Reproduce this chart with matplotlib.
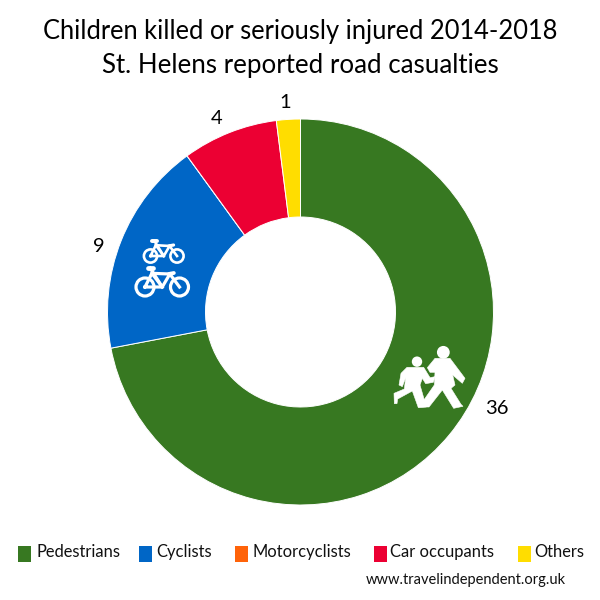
import matplotlib
matplotlib.use("Agg")
import matplotlib.pyplot as plt
from matplotlib.patches import Rectangle, Circle, Polygon

categories = ["Pedestrians", "Cyclists", "Motorcyclists", "Car occupants", "Others"]
values = [36, 9, 0, 4, 1]
colors = ["#377821", "#0066C6", "#FF6309", "#EC0033", "#FFDD00"]
title_lines = ["Children killed or seriously injured 2014-2018", "St. Helens reported road casualties"]
source = "www.travelindependent.org.uk"

plt.rcParams['font.family'] = ['Lato', 'DejaVu Sans']
S = 600
fig = plt.figure(figsize=(6, 6), dpi=100)

ov = fig.add_axes([0, 0, 1, 1], zorder=3)
ov.set_xlim(0, S); ov.set_ylim(S, 0); ov.axis("off"); ov.patch.set_alpha(0)

cx, cy, R = 300.5, 312, 193
ax = fig.add_axes([(cx-R)/S, 1-(cy+R)/S, 2*R/S, 2*R/S], zorder=1)
ax.pie(values, colors=colors, startangle=90, counterclock=False, radius=1,
       wedgeprops=dict(width=1-95/193, edgecolor="white", linewidth=0.7))
ax.set_xlim(-1, 1); ax.set_ylim(-1, 1); ax.set_aspect("equal")

ov.text(300.5, 31, title_lines[0], ha="center", va="center", fontsize=18.4, color="black")
ov.text(300, 65, title_lines[1], ha="center", va="center", fontsize=18.6, color="black")

label_pos = {0: (497, 408), 1: (99, 246), 3: (217, 118), 4: (285, 103)}
for i, p in label_pos.items():
    ov.text(p[0], p[1], str(values[i]), ha="center", va="center", fontsize=14.5, color="black")

sw_x = [18, 139, 235, 374, 518]
tx_x = [36, 156, 252, 390, 534]
for n, c, a, b in zip(categories, colors, sw_x, tx_x):
    ov.add_patch(Rectangle((a, 546), 13, 16, fc=c, ec="none"))
    ov.text(b, 552, n, ha="left", va="center", fontsize=11.9, color="#111111")
ov.text(366, 580, source, ha="left", va="center", fontsize=10.5, color="#111111")

W = "white"
def bike(x1, x2, y, r, lw, rise_seat, rise_bar):
    ov.add_patch(Circle((x1, y), r, fc="none", ec=W, lw=lw))
    ov.add_patch(Circle((x2, y), r, fc="none", ec=W, lw=lw))
    d = x2 - x1
    bx, by = x1 + d*0.5, y
    sx, sy = x1 + d*0.15, y - rise_seat
    tx, ty = x1 + d*0.2, y - rise_seat*0.72
    hx, hy = x1 + d*0.72, y - rise_bar
    ov.plot([x1, tx, bx, x1], [y, ty, by, y], color=W, lw=lw)
    ov.plot([sx, bx], [sy, by], color=W, lw=lw)
    ov.plot([tx, hx, bx], [ty, hy, by], color=W, lw=lw)
    ov.plot([hx, x2], [hy, y], color=W, lw=lw)
    ov.plot([sx - 2.5, sx + 3], [sy, sy], color=W, lw=lw*1.5, solid_capstyle="round")
    ov.plot([hx - 1, hx + 4], [hy, hy - 1], color=W, lw=lw*1.2, solid_capstyle="round")
bike(150.5, 177, 256, 6.6, 1.9, 15, 10)
bike(145, 179.5, 287, 9, 2.3, 19, 13)

ox, oy = 385, 335
def poly(pts):
    ov.add_patch(Polygon([(ox+a/3, oy+b/3) for a, b in pts], closed=True, fc=W, ec=W, lw=0.4))
ov.add_patch(Circle((ox+175/3, oy+52/3), 6.4, fc=W, ec=W, lw=0))
ov.add_patch(Circle((ox+96/3, oy+80/3), 5.2, fc=W, ec=W, lw=0))
poly([(150,70),(195,70),(240,130),(232,145),(203,120),(210,150),(198,160),(228,208),(234,214),(206,220),
      (172,165),(132,216),(102,216),(148,150),(150,112),(135,112),(127,98)])
poly([(66,97),(116,97),(135,128),(150,125),(145,142),(122,146),(112,130),(105,150),(124,216),(100,218),
      (82,168),(38,192),(36,206),(28,206),(27,175),(58,162),(62,128),(52,155),(42,150),(48,115)])
fig.savefig("out.png", dpi=100)
